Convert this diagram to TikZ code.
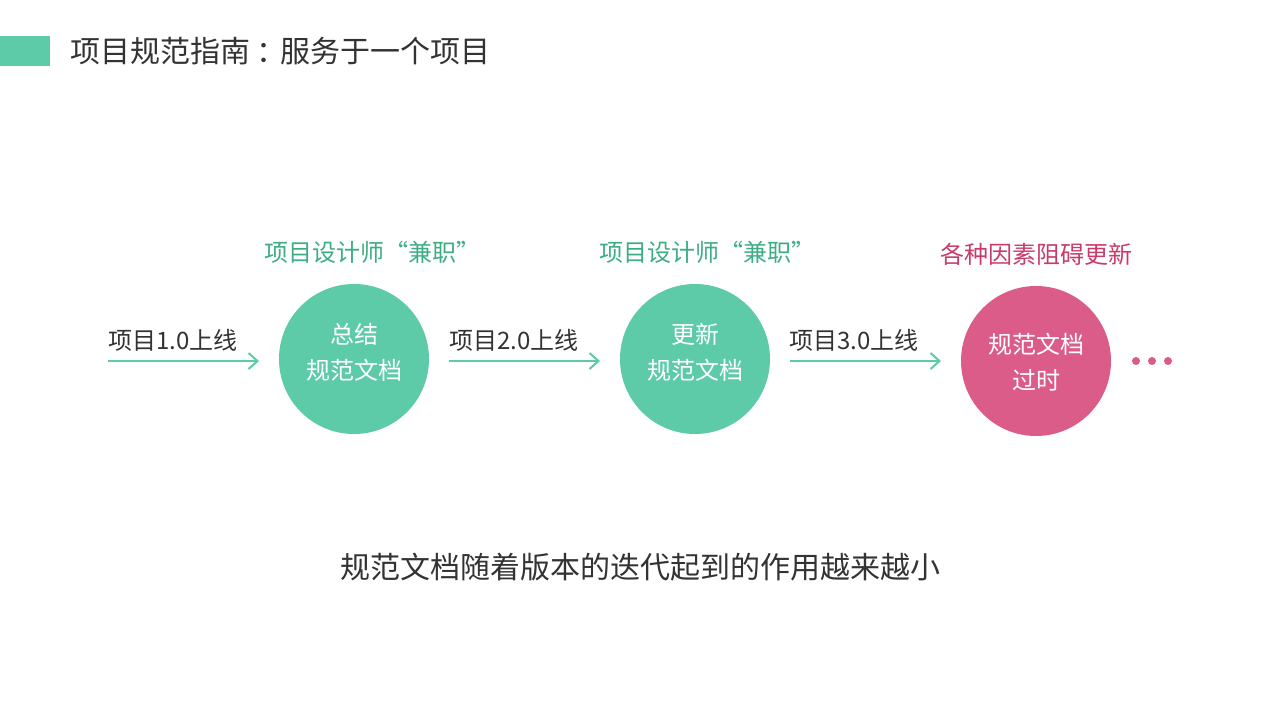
\documentclass[tikz,border=0pt]{standalone}
\usepackage{fontspec}
\setmainfont{Noto Sans CJK SC}
\usetikzlibrary{arrows.meta}
\definecolor{mgreen}{HTML}{5DCAA8}
\definecolor{tgreen}{HTML}{3DAE84}
\definecolor{mpink}{HTML}{DB5C88}
\definecolor{tpink}{HTML}{C83C6C}
\definecolor{dtext}{HTML}{333333}
\tikzset{
  stage/.style={circle, fill=#1, minimum size=150pt, inner sep=0pt},
  stagetext/.style={text=white, align=center, inner sep=0pt, font=\fontsize{24}{36}\selectfont},
  steplabel/.style={text=dtext, font=\fontsize{24}{28}\selectfont, inner sep=0pt},
  notelabel/.style={font=\fontsize{24}{28}\selectfont, inner sep=0pt},
  flow/.style={draw=mgreen, line width=2pt, -{Straight Barb[length=9pt,width=16pt,line width=2pt]}},
  dot/.style={circle, fill=mpink, minimum size=8pt, inner sep=0pt}
}
\begin{document}
\begin{tikzpicture}[x=1pt,y=-1pt]
\useasboundingbox (0,0) rectangle (1280,720);
\fill[white] (0,0) rectangle (1280,720);
\node[fill=mgreen, minimum width=50pt, minimum height=30pt, inner sep=0pt, anchor=north west] (bar) at (0,36) {};
\node[anchor=west, text=dtext, font=\fontsize{30}{34}\selectfont, inner sep=0pt] (title) at (70,51) {项目规范指南\kern6pt：\kern-6pt服务于一个项目};

\coordinate (a1s) at (108,361);
\coordinate (a1e) at (259,361);
\coordinate (a2s) at (449,361);
\coordinate (a2e) at (600,361);
\coordinate (a3s) at (790,361);
\coordinate (a3e) at (941,361);

\node[stage=mgreen] (c1) at (354,359) {};
\node[stage=mgreen] (c2) at (695,359) {};
\node[stage=mpink] (c3) at (1036,361) {};
\node[stagetext] (t1) at (354,352) {总结\\规范文档};
\node[stagetext] (t2) at (695,352) {更新\\规范文档};
\node[stagetext] (t3) at (1036,362) {规范文档\\过时};

\draw[flow] (a1s) -- (a1e);
\draw[flow] (a2s) -- (a2e);
\draw[flow] (a3s) -- (a3e);

\node[steplabel, anchor=west] (l1) at (108,340) {项目1.0上线};
\node[steplabel, anchor=west] (l2) at (449,340) {项目2.0上线};
\node[steplabel, anchor=west] (l3) at (789,340) {项目3.0上线};

\node[notelabel, text=tgreen] (n1) at (372,252) {项目设计师“兼职”};
\node[notelabel, text=tgreen] (n2) at (707,252) {项目设计师“兼职”};
\node[notelabel, text=tpink] (n3) at (1036,254) {各种因素阻碍更新};

\node[dot] (d1) at (1136,361) {};
\node[dot] (d2) at (1152,361) {};
\node[dot] (d3) at (1168,361) {};

\node[text=dtext, font=\fontsize{30}{34}\selectfont, inner sep=0pt] (summary) at (640,567) {规范文档随着版本的迭代起到的作用越来越小};
\end{tikzpicture}
\end{document}
